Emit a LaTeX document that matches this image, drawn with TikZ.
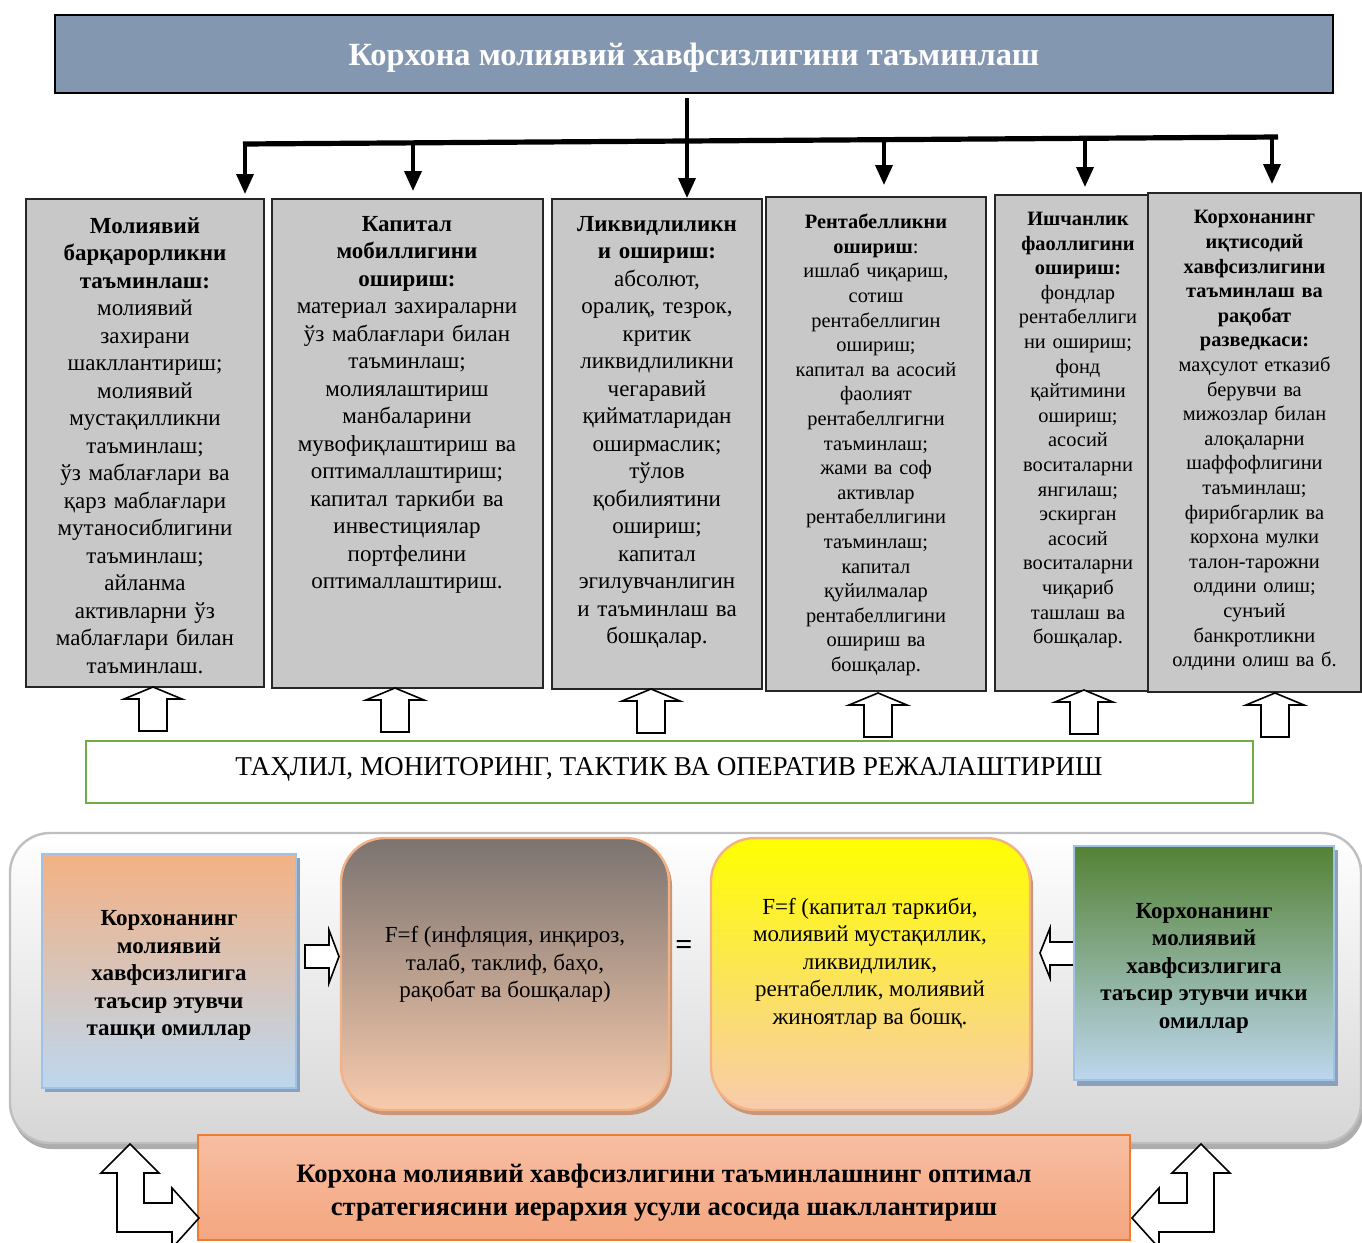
\documentclass[tikz,border=0pt]{standalone}
\usepackage{fontspec}
\setmainfont{Liberation Serif}
\usetikzlibrary{fit,arrows.meta}
\definecolor{topblue}{RGB}{132,151,176}
\definecolor{boxgray}{RGB}{200,200,200}
\definecolor{grnline}{RGB}{112,173,71}
\definecolor{orangeA}{RGB}{244,177,131}
\definecolor{lblue}{RGB}{189,215,238}
\definecolor{lblueline}{RGB}{157,195,230}
\definecolor{brgray}{RGB}{123,115,112}
\definecolor{peach}{RGB}{248,203,173}
\definecolor{dgreen}{RGB}{84,130,53}
\definecolor{salmonT}{RGB}{247,190,162}
\definecolor{salmonB}{RGB}{244,166,128}
\definecolor{orline}{RGB}{237,125,49}
\definecolor{panelB}{RGB}{214,214,214}
\definecolor{panelL}{RGB}{191,191,191}
\definecolor{shadowB}{RGB}{140,160,186}
\definecolor{shadowO}{RGB}{200,150,120}
\newcommand\fsA{\fontsize{11.5}{13.75}\selectfont}
\newcommand\fsB{\fontsize{10.2}{12.3}\selectfont}
\newcommand\uparr[2]{\draw[blk] (#1-14,#2) -- ++(0,-32) -- ++(-15,0) -- ++(29,-12) -- ++(29,12) -- ++(-15,0) -- ++(0,32) -- cycle;}
\tikzset{
  gbox/.style={draw=black!85, line width=1pt, fill=boxgray, inner sep=0pt},
  gtxtA/.style={align=center, inner sep=0pt, font=\fsA},
  gtxtB/.style={align=center, inner sep=0pt, font=\fsB},
  conn/.style={line width=1.8pt, -{Triangle[length=10pt,width=8.5pt]}},
  blk/.style={draw=black, line width=0.8pt, fill=white, line join=miter},
}
\begin{document}
\begin{tikzpicture}[x=0.5pt,y=-0.5pt]
\useasboundingbox (0,0) rectangle (1362,1243);
\clip (0,0) rectangle (1362,1243);
% title
\node[fit={(55,15) (1333,93)}, inner sep=0pt, draw=black, line width=1.1pt, fill=topblue] (top) {};
\node[font=\fontsize{16.2}{19}\selectfont\bfseries, text=white] (ttl) at (694,58) {Корхона молиявий хавфсизлигини таъминлаш};
% gray boxes
\node[gbox, fit={(26,199) (264,687)}] (b1) {};
\node[gbox, fit={(272,199) (543,688)}] (b2) {};
\node[gbox, fit={(552,199) (762,689)}] (b3) {};
\node[gbox, fit={(766,197) (986,691)}] (b4) {};
\node[gbox, fit={(995,195) (1148,691)}] (b5) {};
\node[gbox, fit={(1148,193) (1361,692)}] (b6) {};
\node[gtxtA, text width=117pt] (t1) at (145,445.5) {\textbf{Молиявий}\\ \textbf{барқарорликни}\\ \textbf{таъминлаш:}\\ молиявий\\ захирани\\ шакллантириш;\\ молиявий\\ мустақилликни\\ таъминлаш;\\ ўз маблағлари ва\\ қарз маблағлари\\ мутаносиблигини\\ таъминлаш;\\ айланма\\ активларни ўз\\ маблағлари билан\\ таъминлаш.};
\node[gtxtA, text width=133pt] (t2) at (407,405) {\textbf{Капитал}\\ \textbf{мобиллигини}\\ \textbf{ошириш:}\\ материал захираларни\\ ўз маблағлари билан\\ таъминлаш;\\ молиялаштириш\\ манбаларини\\ мувофиқлаштириш ва\\ оптималлаштириш;\\ капитал таркиби ва\\ инвестициялар\\ портфелини\\ оптималлаштириш.};
\node[gtxtA, text width=104pt] (t3) at (657,432.5) {\textbf{Ликвидлиликн}\\ \textbf{и ошириш:}\\ абсолют,\\ оралиқ, тезрок,\\ критик\\ ликвидлиликни\\ чегаравий\\ қийматларидан\\ оширмаслик;\\ тўлов\\ қобилиятини\\ ошириш;\\ капитал\\ эгилувчанлигин\\ и таъминлаш ва\\ бошқалар.};
\node[gtxtB, text width=108pt] (t4) at (876,445) {\textbf{Рентабелликни}\\ \textbf{ошириш}:\\ ишлаб чиқариш,\\ сотиш\\ рентабеллигин\\ ошириш;\\ капитал ва асосий\\ фаолият\\ рентабеллгигни\\ таъминлаш;\\ жами ва соф\\ активлар\\ рентабеллигини\\ таъминлаш;\\ капитал\\ қуйилмалар\\ рентабеллигини\\ ошириш ва\\ бошқалар.};
\node[gtxtB, text width=75pt] (t5) at (1078,430) {\textbf{Ишчанлик}\\ \textbf{фаоллигини}\\ \textbf{ошириш:}\\ фондлар\\ рентабеллиги\\ ни ошириш;\\ фонд\\ қайтимини\\ ошириш;\\ асосий\\ воситаларни\\ янгилаш;\\ эскирган\\ асосий\\ воситаларни\\ чиқариб\\ ташлаш ва\\ бошқалар.};
\node[gtxtB, text width=105pt] (t6) at (1254.5,440.5) {\textbf{Корхонанинг}\\ \textbf{иқтисодий}\\ \textbf{хавфсизлигини}\\ \textbf{таъминлаш ва}\\ \textbf{рақобат}\\ \textbf{разведкаси:}\\ маҳсулот етказиб\\ берувчи ва\\ мижозлар билан\\ алоқаларни\\ шаффофлигини\\ таъминлаш;\\ фирибгарлик ва\\ корхона мулки\\ талон-тарожни\\ олдини олиш;\\ сунъий\\ банкротликни\\ олдини олиш ва б.};
% connectors
\coordinate (c0) at (687,98);
\draw[conn] (c0) -- (c0 |- b3.north);
\coordinate (bl) at (243,144);
\coordinate (br) at (1278,137);
\draw[line width=2.6pt] (bl) -- (br);
\coordinate (a1) at (245,144);
\coordinate (a2) at (413,143);
\coordinate (a4) at (884,140);
\coordinate (a5) at (1085,138.5);
\coordinate (a6) at (1272,137.5);
\draw[conn, shorten >=2pt] (a1) -- (a1 |- b1.north);
\draw[conn, shorten >=3.5pt] (a2) -- (a2 |- b2.north);
\draw[conn, shorten >=5.5pt] (a4) -- (a4 |- b4.north);
\draw[conn, shorten >=3.5pt] (a5) -- (a5 |- b5.north);
\draw[conn, shorten >=4pt] (a6) -- (a6 |- b6.north);
% up arrows
\uparr{153}{731}
\uparr{395}{732}
\uparr{651}{733}
\uparr{878}{737}
\uparr{1084}{734}
\uparr{1275}{737}
% analysis box
\node[fit={(86,741) (1253,803)}, inner sep=0pt, draw=grnline, line width=1.3pt, fill=white] (ana) {};
\node[font=\fontsize{13.6}{16}\selectfont] (anat) at (669,769) {ТАҲЛИЛ, МОНИТОРИНГ, ТАКТИК ВА ОПЕРАТИВ РЕЖАЛАШТИРИШ};
% panel
\fill[black!32, rounded corners=20pt] (12,839) rectangle (1364,1149);
\shadedraw[top color=white, bottom color=panelB, draw=panelL, line width=1.2pt, rounded corners=20pt] (10,833) rectangle (1361,1143);
% external factors
\fill[shadowB] (45,858) rectangle (300,1092);
\node[fit={(42,854) (296,1088)}, inner sep=0pt, draw=lblueline, line width=1pt, top color=orangeA, bottom color=lblue] (ext) {};
\node[gtxtA, font=\fsA\bfseries] (extt) at (169,975.5) {Корхонанинг\\ молиявий\\ хавфсизлигига\\ таъсир этувчи\\ ташқи омиллар};
% middle
\fill[shadowO, rounded corners=22pt] (343,842) rectangle (672,1115);
\node[fit={(341,838) (669,1110)}, inner sep=0pt, rounded corners=22pt, draw=orangeA, line width=1.2pt, top color=brgray, bottom color=peach] (mid) {};
\node[gtxtA] (midt) at (505,964.5) {F=f (инфляция, инқироз,\\ талаб, таклиф, баҳо,\\ рақобат ва бошқалар)};
\draw[blk] (305,945) -- (329,945) -- (329,930) -- (339,956.5) -- (329,983) -- (329,968) -- (305,968) -- cycle;
\node[font=\fontsize{15}{18}\selectfont\bfseries] (eq) at (684,947) {=};
% yellow
\fill[shadowO, rounded corners=22pt] (713,842) rectangle (1033,1115);
\node[fit={(711,838) (1030,1110)}, inner sep=0pt, rounded corners=22pt, draw=orangeA, line width=1.2pt, top color=yellow, bottom color=peach] (yel) {};
\node[gtxtA] (yelt) at (870,963.5) {F=f (капитал таркиби,\\ молиявий мустақиллик,\\ ликвидлилик,\\ рентабеллик, молиявий\\ жиноятлар ва бошқ.};
\draw[blk] (1074,942) -- (1050,942) -- (1050,928) -- (1040,953) -- (1050,978) -- (1050,965) -- (1074,965) -- cycle;
% internal
\fill[shadowB] (1077,850) rectangle (1338,1086);
\node[fit={(1074,846) (1334,1080)}, inner sep=0pt, draw=lblueline, line width=1pt, top color=dgreen, bottom color=lblue] (int) {};
\node[gtxtA, font=\fsA\bfseries] (intt) at (1204,968) {Корхонанинг\\ молиявий\\ хавфсизлигига\\ таъсир этувчи ички\\ омиллар};
% bottom box
\node[fit={(198,1135) (1130,1240)}, inner sep=0pt, draw=orline, line width=1pt, top color=salmonT, bottom color=salmonB] (bot) {};
\node[align=center, font=\fontsize{13.3}{16.5}\selectfont\bfseries] (bott) at (664,1193) {Корхона молиявий хавфсизлигини таъминлашнинг оптимал\\ стратегиясини иерархия усули асосида шакллантириш};
% corner arrows
\draw[blk] (130,1144) -- (159,1173) -- (144,1173) -- (144,1203) -- (172,1203) -- (172,1188) -- (199,1218) -- (172,1248) -- (172,1232) -- (117,1232) -- (117,1173) -- (101,1173) -- cycle;
\draw[blk] (1201,1144) -- (1230,1173) -- (1214,1173) -- (1214,1232) -- (1159,1232) -- (1159,1248) -- (1132,1218) -- (1159,1188) -- (1159,1203) -- (1187,1203) -- (1187,1173) -- (1172,1173) -- cycle;
\end{tikzpicture}
\end{document}
